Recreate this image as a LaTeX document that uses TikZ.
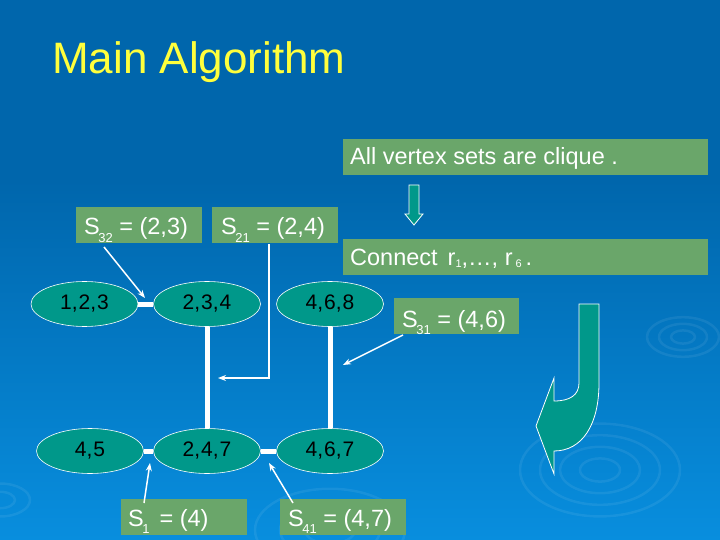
\documentclass[tikz,border=0pt]{standalone}
\usepackage{fontspec}
\setmainfont{Liberation Sans}
\usetikzlibrary{shapes.geometric,arrows.meta}
\definecolor{bgtop}{RGB}{0,102,172}
\definecolor{bgbot}{RGB}{8,142,222}
\definecolor{boxg}{RGB}{106,166,106}
\definecolor{tealc}{RGB}{0,152,138}
\definecolor{titley}{RGB}{255,255,60}
\newcommand\lsub[1]{\kern-1.5pt\raisebox{-7pt}{\fontsize{13}{13}\selectfont #1}}
\newcommand\rsub[1]{\raisebox{-2pt}{\fontsize{11}{11}\selectfont #1}}
\begin{document}
\begin{tikzpicture}[x=1pt,y=-1pt,
  gbox/.style={rectangle, fill=boxg, inner sep=0pt},
  btxt/.style={anchor=base west, inner sep=0pt, text=white, font=\fontsize{23.5}{26}\selectfont},
  cliq/.style={ellipse, draw=white, line width=0.6pt, fill=tealc, minimum width=107, minimum height=45, inner sep=0pt, font=\fontsize{21}{24}\selectfont, text=black},
  sep/.style={draw=white, line width=5pt},
  parr/.style={draw=white, line width=1.5pt, -{Stealth[length=8pt,width=6pt]}},
  ripple/.style={draw=white, opacity=0.07, line width=2.5pt}
]
\useasboundingbox (0,0) rectangle (720,540);
\fill[bgtop] (0,0) rectangle (720,541);
\shade[top color=bgtop, bottom color=bgbot] (0,180) rectangle (720,540);
% ripples
\foreach \r in {20,40,60,80} {\draw[ripple] (600,470) ellipse ({\r} and {\r*0.58});}
\foreach \r in {12,24,36} {\draw[ripple] (683,337) ellipse ({\r} and {\r*0.55});}
\foreach \r in {25,50,75} {\draw[ripple] (330,530) ellipse ({\r} and {\r*0.55});}
\foreach \r in {15,30} {\draw[ripple] (0,500) ellipse ({\r} and {\r*0.55});}

% title
\node[anchor=base west, inner sep=0pt, text=titley, font=\fontsize{44}{48}\selectfont] (title) at (52,74) {Main Algorithm};

% boxes
\node[gbox, minimum width=365, minimum height=36] (allb) at (525.5,157) {};
\node[btxt] (allt) at (350,165) {All vertex sets are clique .};
\node[gbox, minimum width=365, minimum height=36] (conb) at (525.5,257) {};
\node[btxt] (cont) at (350,265) {Connect\hspace{10pt}r\rsub{1},…, r\hspace{3pt}\rsub{6}\hspace{4pt}.};
\node[gbox, minimum width=126, minimum height=36] (s32) at (139,225) {};
\node[btxt] at (84,235) {S\lsub{32} = (2,3)};
\node[gbox, minimum width=126, minimum height=36] (s21) at (275,225) {};
\node[btxt] at (221,235) {S\lsub{21} = (2,4)};
\node[gbox, minimum width=125, minimum height=36] (s31) at (456.5,316) {};
\node[btxt] at (402,327) {S\lsub{31} = (4,6)};
\node[gbox, minimum width=126, minimum height=36] (s1) at (184,517) {};
\node[btxt] at (128,526) {S\lsub{1}\hspace{10pt}= (4)};
\node[gbox, minimum width=126, minimum height=36] (s41) at (343,517) {};
\node[btxt] at (288,526) {S\lsub{41} = (4,7)};

% small down arrow
\draw[white, fill=tealc, line width=0.8pt] (409,185) -- (419,185) -- (419,214) -- (423,214) -- (414,225) -- (405,214) -- (409,214) -- cycle;

% clique nodes
\node[cliq] (a) at (84.5,304) {1,\kern1pt2,\kern1pt3};
\node[cliq] (b) at (207,304) {2,\kern1pt3,\kern1pt4};
\node[cliq] (c) at (330,304) {4,\kern1pt6,\kern1pt8};
\node[cliq] (d) at (90,451) {4,\kern1pt5};
\node[cliq] (e) at (207,451) {2,\kern1pt4,\kern1pt7};
\node[cliq] (f) at (330,451) {4,\kern1pt6,\kern1pt7};

% separators
\draw[sep] (a.east) -- (b.west);
\draw[sep] (b.south) -- (e.north);
\draw[sep] (c.south) -- (f.north);
\draw[sep] (d.east) -- (e.west);
\draw[sep] (e.east) -- (f.west);

% pointer arrows
\coordinate (p32s) at (104,247);
\coordinate (p32e) at (145,298);
\draw[parr] (p32s) -- (p32e);
\coordinate (p21s) at (269,244);
\coordinate (p21e) at (218,378);
\draw[draw=white, line width=1.2pt, -{Stealth[length=8pt,width=6pt]}] (p21s) |- (p21e);
\coordinate (p31s) at (403,335);
\coordinate (p31e) at (343,365);
\draw[parr] (p31s) -- (p31e);
\coordinate (p1s) at (144,503);
\coordinate (p1e) at (150,463);
\draw[parr] (p1s) -- (p1e);
\coordinate (p41s) at (293,503);
\coordinate (p41e) at (269,463);
\draw[parr] (p41s) -- (p41e);

% big curved arrow
\draw[white, fill=tealc, line width=0.8pt] (579,304) -- (599,304) -- (599,383)
  .. controls (599,425) and (582,451) .. (554,451) -- (554,474) -- (536,426) -- (554,378) -- (554,401)
  .. controls (570,401) and (579,395) .. (579,383) -- cycle;
\end{tikzpicture}
\end{document}
